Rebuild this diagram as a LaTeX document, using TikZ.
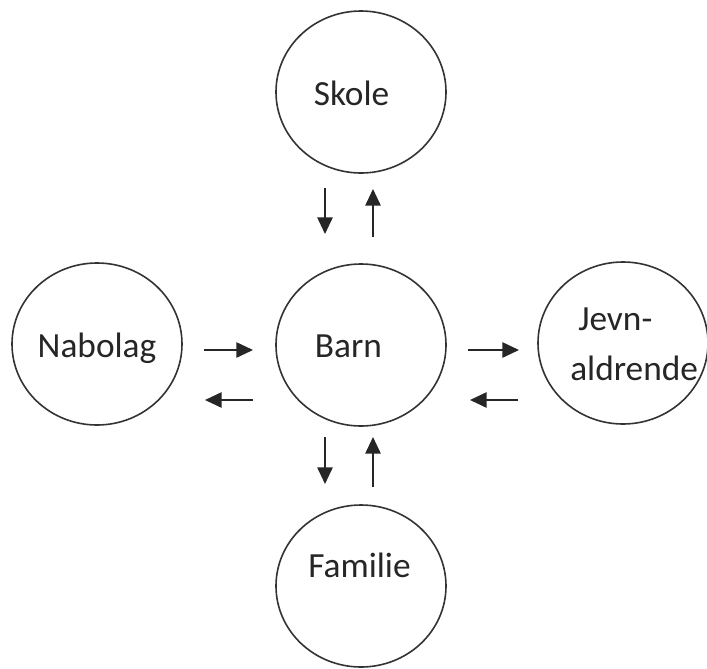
\documentclass[tikz,border=0pt]{standalone}
\usepackage{fontspec}
\setmainfont{Carlito}
\usetikzlibrary{shapes.geometric,arrows.meta}
\begin{document}
\begin{tikzpicture}[x=0.75pt,y=-0.75pt,
  circ/.style={draw=black!80, line width=1.2pt, ellipse, minimum width=127.5pt, minimum height=121.5pt, inner sep=0pt},
  lbl/.style={font=\fontsize{26.5}{32}\selectfont, text=black!85, inner sep=0pt, anchor=base},
  arr/.style={draw=black!85, line width=1.3pt, -{Triangle[length=12.5pt,width=11.5pt]}}]
\useasboundingbox (0,0) rectangle (707,668);
\fill[white] (0,0) rectangle (707,668);
% circles
\node[circ] (skole) at (361,92) {};
\node[circ] (barn) at (361,345) {};
\node[circ] (familie) at (361,586) {};
\node[circ] (nabolag) at (97,344) {};
\node[circ] (jevn) at (623,343) {};
% labels
\node[lbl] (tskole) at (351.5,105) {Skole};
\node[lbl] (tbarn) at (348.5,357) {Barn};
\node[lbl] (tfamilie) at (359.5,577) {Familie};
\node[lbl] (tnabolag) at (97,357) {Nabolag};
\node[lbl, anchor=base west] (tjevn1) at (578,330) {Jevn-};
\node[lbl, anchor=base west] (tjevn2) at (570,380) {aldrende};
% arrow end points
\coordinate (sb1) at (325,188); \coordinate (sb2) at (325,234);
\coordinate (bs1) at (373,237); \coordinate (bs2) at (373,189);
\coordinate (bf1) at (325,437); \coordinate (bf2) at (325,484);
\coordinate (fb1) at (373,487); \coordinate (fb2) at (373,437);
\coordinate (nb1) at (204,350); \coordinate (nb2) at (253,350);
\coordinate (bn1) at (253,400); \coordinate (bn2) at (205,400);
\coordinate (bj1) at (468,350); \coordinate (bj2) at (519,350);
\coordinate (jb1) at (518,400); \coordinate (jb2) at (470,400);
% arrows
\draw[arr] (sb1) -- (sb2);
\draw[arr] (bs1) -- (bs2);
\draw[arr] (bf1) -- (bf2);
\draw[arr] (fb1) -- (fb2);
\draw[arr] (nb1) -- (nb2);
\draw[arr] (bn1) -- (bn2);
\draw[arr] (bj1) -- (bj2);
\draw[arr] (jb1) -- (jb2);
\end{tikzpicture}
\end{document}
